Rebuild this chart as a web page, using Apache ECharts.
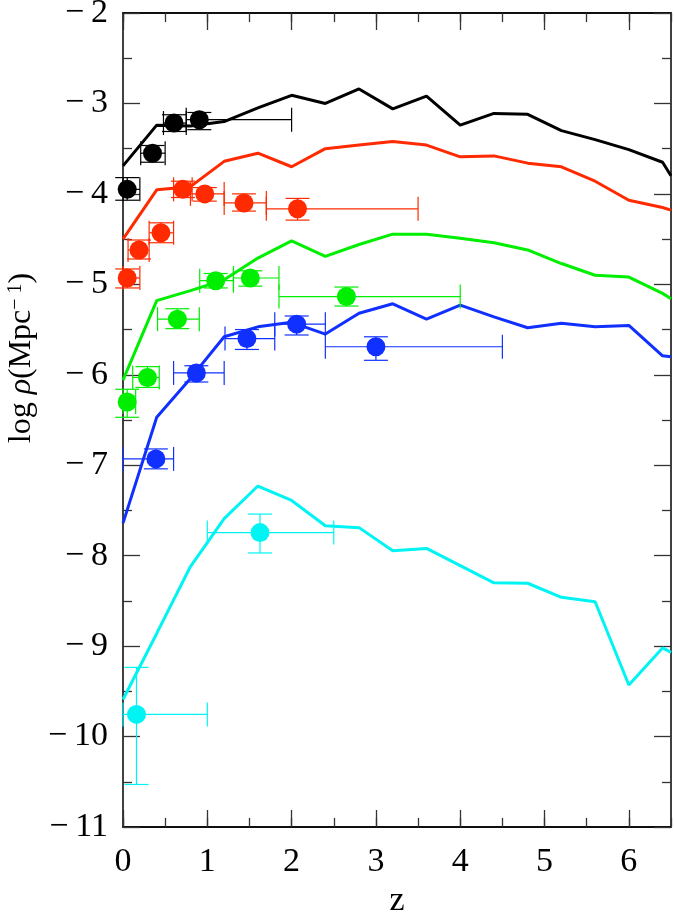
<!DOCTYPE html>
<html>
<head>
<meta charset="utf-8">
<script src="https://cdn.jsdelivr.net/npm/echarts@6/dist/echarts.min.js"></script>
<style>html,body{margin:0;padding:0;background:#fff;}#c{width:674px;height:916px;}</style>
</head>
<body>
<div id="c"></div>
<script>
// ---- model curves ----
const modelZ = [0, 0.4, 0.8, 1.2, 1.6, 2.0, 2.4, 2.8, 3.2, 3.6, 4.0, 4.4, 4.8, 5.2, 5.6, 6.0, 6.4, 6.5];
const modelBlack = [-3.69, -3.24, -3.25, -3.20, -3.05, -2.91, -3.00, -2.84, -3.06, -2.92, -3.24, -3.11, -3.12, -3.30, -3.40, -3.51, -3.65, -3.80];
const modelRed   = [-4.50, -3.955, -3.92, -3.64, -3.55, -3.70, -3.50, -3.46, -3.42, -3.46, -3.59, -3.58, -3.66, -3.70, -3.86, -4.07, -4.15, -4.18];
const modelGreen = [-6.06, -5.18, -5.07, -4.95, -4.71, -4.52, -4.69, -4.56, -4.445, -4.445, -4.49, -4.54, -4.62, -4.77, -4.90, -4.92, -5.10, -5.16];
const modelBlue  = [-7.64, -6.47, -6.04, -5.58, -5.47, -5.42, -5.55, -5.32, -5.215, -5.385, -5.23, -5.36, -5.48, -5.43, -5.47, -5.455, -5.79, -5.80];
const modelCyan  = [-9.59, -8.86, -8.12, -7.59, -7.23, -7.39, -7.67, -7.69, -7.945, -7.92, -8.11, -8.30, -8.305, -8.46, -8.51, -9.43, -9.02, -9.07];

// ---- observed points ----
const blackZ = [0.05, 0.35, 0.605, 0.905];
const blackRho = [-3.95, -3.55, -3.217, -3.18];
const blackZLo = [0, 0.21, 0.48, 0.75];
const blackZHi = [0.2, 0.50, 0.75, 2.0];
const blackRhoHi = [-3.82, -3.465, -3.125, -3.10];
const blackRhoLo = [-4.07, -3.65, -3.31, -3.29];

const redZ = [0.05, 0.19, 0.45, 0.71, 0.97, 1.435, 2.07];
const redRho = [-4.93, -4.62, -4.43, -3.95, -4.00, -4.10, -4.165];
const redZLo = [0, 0.06, 0.31, 0.60, 0.80, 1.20, 1.70];
const redZHi = [0.2, 0.31, 0.60, 0.82, 1.20, 1.70, 3.50];
const redRhoHi = [-4.83, -4.51, -4.32, -3.86, -3.93, -4.00, -4.05];
const redRhoLo = [-5.04, -4.72, -4.54, -4.04, -4.08, -4.19, -4.29];

const greenZ = [0.05, 0.29, 0.645, 1.10, 1.51, 2.65];
const greenRho = [-6.30, -6.03, -5.385, -4.96, -4.93, -5.135];
const greenZLo = [0, 0.115, 0.41, 0.91, 1.31, 1.85];
const greenZHi = [0.15, 0.43, 0.905, 1.31, 1.85, 4.0];
const greenRhoHi = [-6.16, -5.91, -5.27, -4.88, -4.85, -5.03];
const greenRhoLo = [-6.47, -6.14, -5.49, -5.04, -5.02, -5.24];

const blueZ = [0.39, 0.87, 1.47, 2.06, 3.0];
const blueRho = [-6.93, -5.98, -5.60, -5.44, -5.69];
const blueZLo = [0, 0.60, 1.21, 1.80, 2.40];
const blueZHi = [0.60, 1.20, 1.80, 2.40, 4.50];
const blueRhoHi = [-6.82, -5.90, -5.50, -5.35, -5.58];
const blueRhoLo = [-7.04, -6.08, -5.72, -5.56, -5.84];

const cyanZ = [0.16, 1.625];
const cyanRho = [-9.755, -7.745];
const cyanZLo = [0, 1.0];
const cyanZHi = [1.0, 2.5];
const cyanRhoHi = [-9.235, -7.54];
const cyanRhoLo = [-10.53, -7.97];

// ---- axis ticks ----
const xTickLabels = [0, 1, 2, 3, 4, 5, 6];
const yTickLabels = [-11, -10, -9, -8, -7, -6, -5, -4, -3, -2];

const COLORS = { black: '#000000', red: '#ff2a00', green: '#00ee00', blue: '#1030ff', cyan: '#00f4f4' };
const FONT = 'Liberation Serif';

function pairs(xs, ys) { return xs.map((x, i) => [x, ys[i]]); }
function rows(z, r, zl, zh, rh, rl) { return z.map((v, i) => [v, r[i], zl[i], zh[i], rh[i], rl[i]]); }

function lineSeries(ys, color) {
  return { type: 'line', data: pairs(modelZ, ys), showSymbol: false, symbol: 'none',
    lineStyle: { color: color, width: 3 }, z: 2, animation: false, silent: true };
}
function errSeries(data, color) {
  return {
    type: 'custom', data: data, z: 3, animation: false, silent: true,
    renderItem: function (params, api) {
      const z = api.value(0), r = api.value(1), zl = api.value(2), zh = api.value(3), rh = api.value(4), rl = api.value(5);
      const a = api.coord([zl, r]), b = api.coord([zh, r]), t = api.coord([z, rh]), bo = api.coord([z, rl]);
      const c = 12;
      const st = { stroke: color, lineWidth: 1.2 };
      const L = (x1, y1, x2, y2) => ({ type: 'line', shape: { x1, y1, x2, y2 }, style: st });
      return { type: 'group', children: [
        L(a[0], a[1], b[0], b[1]),
        L(a[0], a[1] - c, a[0], a[1] + c),
        L(b[0], b[1] - c, b[0], b[1] + c),
        L(t[0], t[1], bo[0], bo[1]),
        L(t[0] - c, t[1], t[0] + c, t[1]),
        L(bo[0] - c, bo[1], bo[0] + c, bo[1])
      ] };
    }
  };
}
function pointSeries(z, r, color) {
  return { type: 'scatter', data: pairs(z, r), symbol: 'circle', symbolSize: 19,
    itemStyle: { color: color, opacity: 1 }, z: 4, animation: false, silent: true };
}

const minus = v => (v < 0 ? '\u2212\u2009' + (-v) : String(v));
const axLine = { show: true, onZero: false, lineStyle: { color: '#000', width: 1.5 } };
const tickStyle = { color: '#333', width: 1.3 };

const xMajor = (pos, showLabel) => ({
  type: 'value', min: 0, max: 6.5, interval: 1, position: pos, gridIndex: 0,
  axisLine: axLine, splitLine: { show: false },
  axisTick: { show: true, inside: true, length: 17, lineStyle: tickStyle, customValues: xTickLabels },
  axisLabel: showLabel ? { show: true, customValues: xTickLabels, formatter: v => minus(v), fontFamily: FONT, fontSize: 34, color: '#000', margin: 18 } : { show: false },
  name: showLabel ? 'z' : '', nameLocation: 'middle', nameGap: 57,
  nameTextStyle: { fontFamily: FONT, fontSize: 34, color: '#000' }
});
const xMinor = pos => ({
  type: 'value', min: 0, max: 6.5, interval: 0.5, position: pos, gridIndex: 0,
  axisLine: axLine, splitLine: { show: false },
  axisTick: { show: true, inside: true, length: 9, lineStyle: tickStyle },
  axisLabel: { show: false }
});
const yAx = (pos, showLabel) => ({
  type: 'value', min: -11, max: -2, interval: 1, position: pos, gridIndex: 0,
  axisLine: axLine, splitLine: { show: false },
  axisTick: { show: true, inside: true, length: 17, lineStyle: tickStyle },
  minorTick: { show: true, splitNumber: 2, length: 9, lineStyle: tickStyle },
  minorSplitLine: { show: false },
  axisLabel: showLabel ? { show: true, customValues: yTickLabels, formatter: v => minus(v), fontFamily: FONT, fontSize: 34, color: '#000', margin: 15 } : { show: false }
});

const chart = echarts.init(document.getElementById('c'), null, { renderer: 'canvas' });
chart.setOption({
  backgroundColor: '#fff',
  animation: false,
  grid: { left: 123, right: 3, top: 13, bottom: 89, containLabel: false, outerBoundsMode: 'none' },
  xAxis: [xMajor('bottom', true), xMinor('bottom'), xMajor('top', false), xMinor('top')],
  yAxis: [yAx('left', true), yAx('right', false)],
  graphic: [{
    type: 'text', x: 22, y: 358, rotation: Math.PI / 2,
    style: {
      text: 'log {r|\u03c1}(Mpc{s|\u2212 1})',
      fontFamily: FONT, fontSize: 32, fill: '#000', align: 'center', verticalAlign: 'middle',
      rich: {
        r: { fontFamily: FONT, fontSize: 32, fontStyle: 'italic', fill: '#000' },
        s: { fontFamily: FONT, fontSize: 20, fill: '#000', verticalAlign: 'top' }
      }
    }
  }],
  series: [
    lineSeries(modelBlack, COLORS.black),
    lineSeries(modelRed, COLORS.red),
    lineSeries(modelGreen, COLORS.green),
    lineSeries(modelBlue, COLORS.blue),
    lineSeries(modelCyan, COLORS.cyan),
    errSeries(rows(blackZ, blackRho, blackZLo, blackZHi, blackRhoHi, blackRhoLo), COLORS.black),
    errSeries(rows(redZ, redRho, redZLo, redZHi, redRhoHi, redRhoLo), COLORS.red),
    errSeries(rows(greenZ, greenRho, greenZLo, greenZHi, greenRhoHi, greenRhoLo), COLORS.green),
    errSeries(rows(blueZ, blueRho, blueZLo, blueZHi, blueRhoHi, blueRhoLo), COLORS.blue),
    errSeries(rows(cyanZ, cyanRho, cyanZLo, cyanZHi, cyanRhoHi, cyanRhoLo), COLORS.cyan),
    pointSeries(blackZ, blackRho, COLORS.black),
    pointSeries(redZ, redRho, COLORS.red),
    pointSeries(greenZ, greenRho, COLORS.green),
    pointSeries(blueZ, blueRho, COLORS.blue),
    pointSeries(cyanZ, cyanRho, COLORS.cyan)
  ]
});
</script>
</body>
</html>
